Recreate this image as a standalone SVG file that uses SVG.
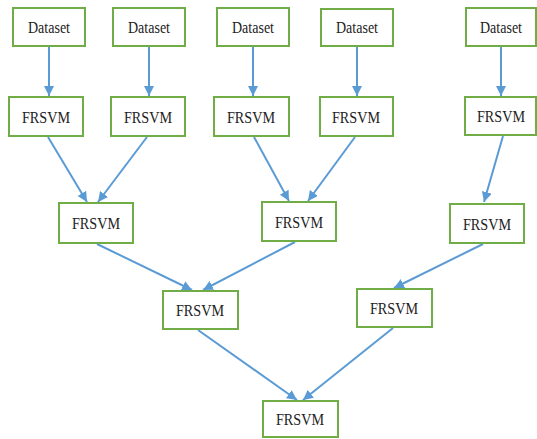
<svg xmlns="http://www.w3.org/2000/svg" width="537" height="439" viewBox="0 0 537 439">
<style>
.box{fill:#fff;stroke:#70AD47;stroke-width:2}
.t{font-family:"Liberation Serif","Times New Roman",serif;font-size:17px;fill:#222;text-anchor:middle}
.c{stroke:#5B9BD5;stroke-width:2;fill:none;marker-end:url(#ah)}
</style>
<defs>
<marker id="ah" markerUnits="userSpaceOnUse" markerWidth="10" markerHeight="10" viewBox="0 0 10 10" refX="10" refY="5" orient="auto">
<path d="M0,0 L10,5 L0,10 Z" fill="#5B9BD5"/>
</marker>
</defs>
<rect width="537" height="439" fill="#fff"/>
<g id="connectors">
<line class="c" x1="49" y1="46" x2="49" y2="96"/>
<line class="c" x1="149" y1="46" x2="149" y2="96"/>
<line class="c" x1="253" y1="46" x2="253" y2="96"/>
<line class="c" x1="357" y1="46" x2="357" y2="96"/>
<line class="c" x1="501" y1="46" x2="501" y2="96"/>
<line class="c" x1="48" y1="137" x2="87" y2="202"/>
<line class="c" x1="147" y1="137" x2="98" y2="202"/>
<line class="c" x1="254" y1="137" x2="289" y2="201"/>
<line class="c" x1="355" y1="137" x2="308" y2="201"/>
<line class="c" x1="503" y1="136" x2="484" y2="202"/>
<line class="c" x1="97" y1="244" x2="192" y2="290"/>
<line class="c" x1="295" y1="242" x2="203" y2="290"/>
<line class="c" x1="483" y1="244" x2="394" y2="288"/>
<line class="c" x1="198" y1="330" x2="297" y2="400"/>
<line class="c" x1="393" y1="328" x2="303" y2="400"/>
</g>
<g id="d1"><rect class="box" x="13" y="8" width="72" height="38"/><text class="t" x="49" y="33" textLength="42" lengthAdjust="spacingAndGlyphs">Dataset</text></g>
<g id="d2"><rect class="box" x="113" y="8" width="72" height="38"/><text class="t" x="149" y="33" textLength="42" lengthAdjust="spacingAndGlyphs">Dataset</text></g>
<g id="d3"><rect class="box" x="217" y="8" width="72" height="38"/><text class="t" x="253" y="33" textLength="42" lengthAdjust="spacingAndGlyphs">Dataset</text></g>
<g id="d4"><rect class="box" x="321" y="9" width="72" height="37"/><text class="t" x="357" y="33" textLength="42" lengthAdjust="spacingAndGlyphs">Dataset</text></g>
<g id="d5"><rect class="box" x="466" y="8" width="70" height="38"/><text class="t" x="501" y="33" textLength="42" lengthAdjust="spacingAndGlyphs">Dataset</text></g>
<g id="f1"><rect class="box" x="9" y="97" width="74" height="39"/><text class="t" x="46" y="123" textLength="48" lengthAdjust="spacingAndGlyphs">FRSVM</text></g>
<g id="f2"><rect class="box" x="111" y="97" width="74" height="39"/><text class="t" x="148" y="123" textLength="48" lengthAdjust="spacingAndGlyphs">FRSVM</text></g>
<g id="f3"><rect class="box" x="214" y="97" width="75" height="39"/><text class="t" x="251" y="123" textLength="48" lengthAdjust="spacingAndGlyphs">FRSVM</text></g>
<g id="f4"><rect class="box" x="320" y="97" width="73" height="39"/><text class="t" x="356" y="123" textLength="48" lengthAdjust="spacingAndGlyphs">FRSVM</text></g>
<g id="f5"><rect class="box" x="465" y="97" width="71" height="38"/><text class="t" x="501" y="122" textLength="48" lengthAdjust="spacingAndGlyphs">FRSVM</text></g>
<g id="g1"><rect class="box" x="59" y="203" width="74" height="40"/><text class="t" x="96" y="229" textLength="48" lengthAdjust="spacingAndGlyphs">FRSVM</text></g>
<g id="g2"><rect class="box" x="262" y="202" width="74" height="39"/><text class="t" x="299" y="228" textLength="48" lengthAdjust="spacingAndGlyphs">FRSVM</text></g>
<g id="g3"><rect class="box" x="450" y="204" width="74" height="39"/><text class="t" x="487" y="230" textLength="48" lengthAdjust="spacingAndGlyphs">FRSVM</text></g>
<g id="h1"><rect class="box" x="163" y="291" width="75" height="38"/><text class="t" x="200" y="316" textLength="48" lengthAdjust="spacingAndGlyphs">FRSVM</text></g>
<g id="h2"><rect class="box" x="357" y="289" width="75" height="38"/><text class="t" x="394" y="314" textLength="48" lengthAdjust="spacingAndGlyphs">FRSVM</text></g>
<g id="root"><rect class="box" x="263" y="401" width="75" height="36"/><text class="t" x="300" y="425" textLength="48" lengthAdjust="spacingAndGlyphs">FRSVM</text></g>
</svg>
